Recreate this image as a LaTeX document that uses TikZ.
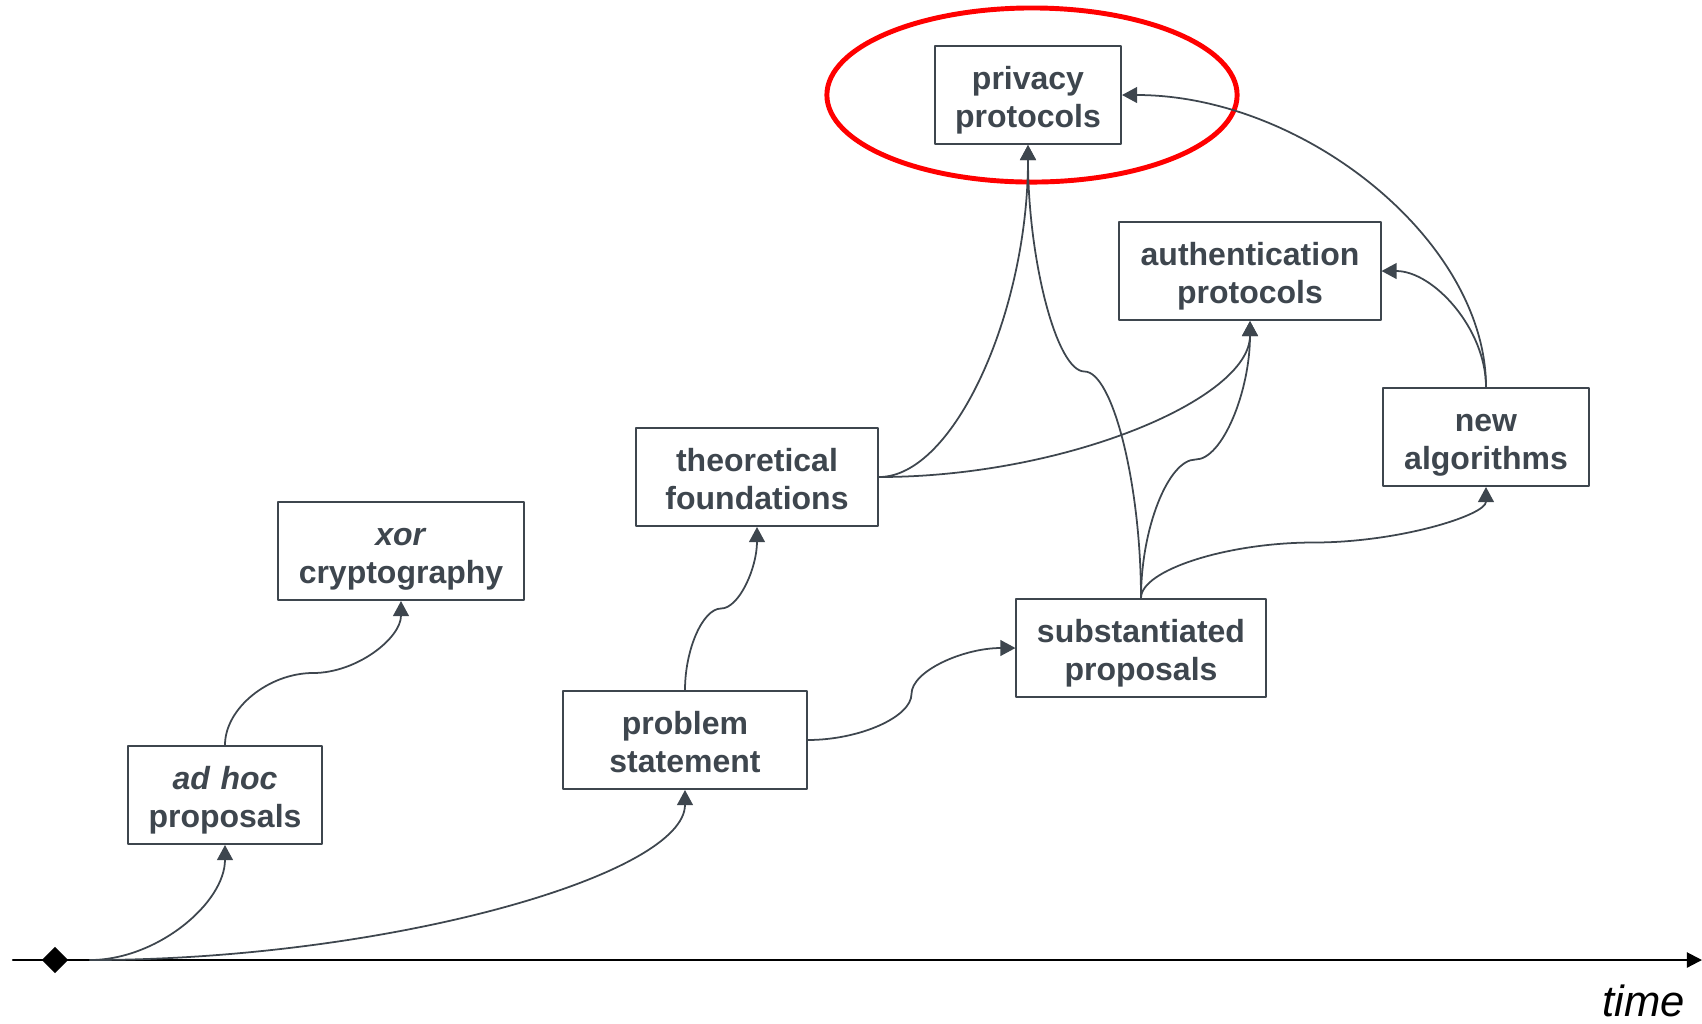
\documentclass[tikz,border=0pt]{standalone}
\usepackage{fontspec}
\setmainfont{Liberation Sans}
\usetikzlibrary{arrows.meta,calc,shapes.geometric}
\definecolor{slate}{RGB}{62,70,78}
\newcommand{\topstrut}{\rule{0pt}{1.06em}}
\newcommand{\botstrut}{\rule[-0.2em]{0pt}{0.2em}}
\tikzstyle{every path}=[line cap=round,line join=round]
\tikzstyle{box}=[draw=slate,line width=0.55pt,text=slate,fill=white,font=\fontsize{9.1}{10.8}\selectfont\bfseries,align=center,minimum height=0.98cm,inner sep=0pt,execute at begin node=\topstrut,execute at end node=\botstrut]
\tikzstyle{link}=[draw=slate,line width=0.5pt,-{Triangle[length=4.3pt,width=4.5pt]}]

\begin{document}
\begin{tikzpicture}[x=0.01cm,y=-0.01cm]
\useasboundingbox (0,0) rectangle (1702,1023);

% time axis
\coordinate (tstart) at (13,960);
\coordinate (tend) at (1702,960);
\coordinate (t0) at (90,960);
\draw[line width=0.6pt,-{Triangle[length=4.3pt,width=4.3pt]}] (tstart) -- (tend);
\node[diamond,fill=black,inner sep=0pt,minimum width=0.27cm,minimum height=0.27cm] (origin) at (55,960) {};
\node[anchor=base,font=\fontsize{12.4}{14}\selectfont\itshape] (time) at (1644,1016) {time};

% stages
\node[box,text width=1.93cm] (ah) at (225,795) {\textit{ad hoc}\\proposals};
\node[box,text width=2.45cm] (xor) at (401,551) {\textit{xor}\\cryptography};
\node[box,text width=2.43cm] (ps) at (685,740) {problem\\statement};
\node[box,text width=2.42cm] (tf) at (757,477) {theoretical\\foundations};
\node[box,text width=2.49cm] (sp) at (1141,648) {substantiated\\proposals};
\node[box,text width=2.06cm] (na) at (1486,437) {new\\algorithms};
\node[box,text width=2.61cm] (ap) at (1250,271) {authentication\\protocols};
\node[box,text width=1.86cm] (pp) at (1028,95) {privacy\\protocols};

\draw[red,line width=1.4pt] ([xshift=0.04cm]pp.center) ellipse [x radius=2.05cm,y radius=0.87cm];

% bends of the S-shaped links
\coordinate (m1) at ($(ah.north)!0.5!(xor.south)$);
\coordinate (m2) at ($(ps.north)!0.5!(tf.south)$);
\coordinate (m3) at ($(ps.east)!0.5!(sp.west)$);
\coordinate (m4) at ($(sp.north)!0.5!(pp.south)$);
\coordinate (m5) at ($(sp.north)!0.5!(ap.south)$);
\coordinate (m6) at ($(sp.north)!0.5!(na.south)$);

\draw[link] (t0) .. controls +(67,0) and +(0,58) .. (ah.south);
\draw[link] (t0) .. controls +(297,0) and +(0,85) .. (ps.south);
\draw[link] (ah.north) .. controls +(0,-37) and +(-44,0) .. (m1) .. controls +(44,0) and +(0,37) .. (xor.south);
\draw[link] (ps.north) .. controls +(0,-41) and +(-18,0) .. (m2) .. controls +(18,0) and +(0,41) .. (tf.south);
\draw[link] (ps.east) .. controls +(52,0) and +(0,23) .. (m3) .. controls +(0,-23) and +(-52,0) .. (sp.west);
\draw[link] (tf.east) .. controls +(75,0) and +(0,167) .. (pp.south);
\draw[link] (tf.east) .. controls +(186,0) and +(0,78) .. (ap.south);
\draw[link] (sp.north) .. controls +(0,-114) and +(28,0) .. (m4) .. controls +(-28,0) and +(0,114) .. (pp.south);
\draw[link] (sp.north) .. controls +(0,-70) and +(-27,0) .. (m5) .. controls +(27,0) and +(0,70) .. (ap.south);
\draw[link] (sp.north) .. controls +(0,-28) and +(-86,0) .. (m6) .. controls +(86,0) and +(0,28) .. (na.south);
\draw[link] (na.north) .. controls +(0,-58) and +(52,0) .. (ap.east);
\draw[link] (na.north) .. controls +(0,-146) and +(182,0) .. (pp.east);
\end{tikzpicture}
\end{document}
